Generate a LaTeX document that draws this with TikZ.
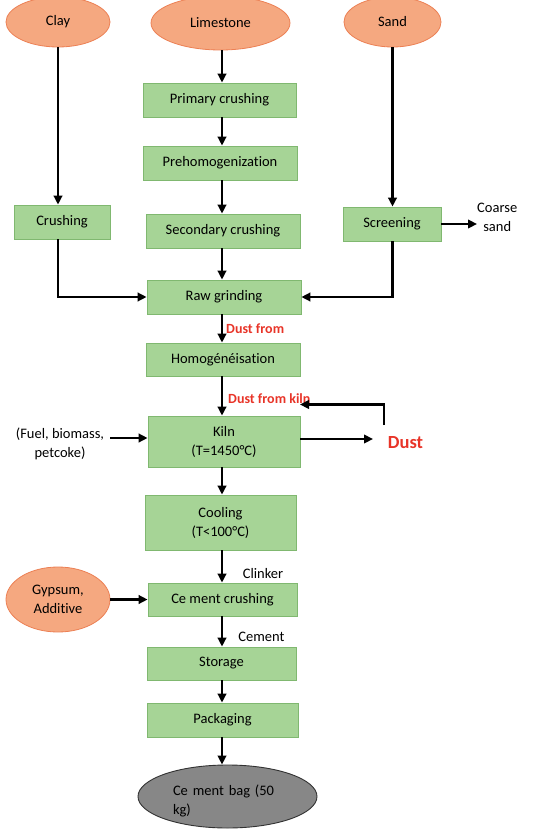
\documentclass[tikz,border=0pt]{standalone}
\usepackage{fontspec}
\setmainfont{Carlito}[Ligatures=NoCommon]
\usetikzlibrary{arrows.meta,shapes.geometric}
\definecolor{boxfill}{RGB}{166,212,150}
\definecolor{boxdraw}{RGB}{128,184,112}
\definecolor{ovfill}{RGB}{245,168,128}
\definecolor{ovdraw}{RGB}{236,128,84}
\definecolor{bagfill}{RGB}{135,135,135}
\definecolor{bagdraw}{RGB}{50,50,50}
\definecolor{dustred}{RGB}{232,52,40}
\tikzset{
  txt/.style={font=\fontsize{14.5}{19}\selectfont, align=center, inner sep=0pt},
  stepbox/.style={txt, rectangle, fill=boxfill, draw=boxdraw, line width=0.8pt},
  oval/.style={txt, ellipse, fill=ovfill, draw=ovdraw, line width=0.8pt},
  arr/.style={line width=2.3pt, -{Triangle[length=9pt,width=8.5pt]}},
  redlbl/.style={font=\fontsize{14}{17}\selectfont\bfseries, text=dustred, inner sep=0pt},
}
\begin{document}
\begin{tikzpicture}[x=1pt,y=-1pt]
\useasboundingbox (0,0) rectangle (535,832);
\coordinate (spine) at (222,0);
% sources
\node[oval, minimum width=104pt, minimum height=50pt] (clay) at (58,22) {Clay};
\node[oval, minimum width=139pt, minimum height=54pt] (lime) at (220.5,23) {Limestone};
\node[oval, minimum width=97pt, minimum height=50pt] (sand) at (392.5,22) {Sand};
% boxes
\node[stepbox, minimum width=153pt, minimum height=34pt] (prim) at (219.5,100) {Primary crushing};
\node[stepbox, minimum width=154pt, minimum height=34pt] (preh) at (220,163) {Prehomogenization};
\node[stepbox, minimum width=154pt, minimum height=34pt] (sec) at (223,231) {Secondary crushing};
\node[stepbox, minimum width=96pt, minimum height=34pt] (crush) at (62,222) {Crushing};
\node[stepbox, minimum width=98pt, minimum height=34pt] (screen) at (392,224) {Screening};
\node[txt, anchor=west] (coarse) at (477,217) {Coarse\\sand};
\node[stepbox, minimum width=154pt, minimum height=34pt] (raw) at (224,297) {Raw grinding};
\node[stepbox, minimum width=154pt, minimum height=33pt] (homog) at (223,359.5) {Homogénéisation};
\node[stepbox, minimum width=152pt, minimum height=51pt] (kiln) at (224,441.5) {Kiln\\(T=1450°C)};
\node[stepbox, minimum width=151pt, minimum height=55pt] (cool) at (220.5,522.5) {Cooling\\(T<100°C)};
\node[stepbox, minimum width=149pt, minimum height=33pt] (ccrush) at (222.5,599.5) {Ce ment crushing};
\node[stepbox, minimum width=149pt, minimum height=33pt] (stor) at (221.5,663.5) {Storage};
\node[stepbox, minimum width=151pt, minimum height=34pt] (pack) at (222.5,720) {Packaging};
\node[oval, minimum width=104pt, minimum height=65pt] (gyp) at (58,599.5) {Gypsum,\\Additive};
\node[ellipse, fill=bagfill, draw=bagdraw, line width=0.9pt, minimum width=179pt, minimum height=63pt, inner sep=0pt] (bag) at (227.5,796.5) {};
\node[txt, align=left, text width=109pt] (bagtext) at (227.5,800.5) {Ce ment bag (50\\kg)};
% labels
\node[redlbl, anchor=west] (dustfrom) at (226,328.5) {Dust from};
\node[redlbl, anchor=west] (dustkiln) at (228,399) {Dust from kiln};
\node[font=\fontsize{18.5}{22}\selectfont\bfseries, text=dustred, inner sep=0pt] (dust) at (405.5,443) {Dust};
\node[txt] (fuel) at (60,444) {(Fuel, biomass,\\petcoke)};
\node[txt] (clinker) at (263,573.5) {Clinker};
\node[txt] (cement) at (261.5,636.6) {Cement};
% helper coordinates
\coordinate (retstart) at (384,425);
\coordinate (retend) at (300,404.5);
\coordinate (dustin) at (373,439);
\coordinate (fuelout) at (110,438);
% connectors main spine
\draw[arr] (lime.south -| spine) -- (prim.north -| spine);
\draw[arr] (prim.south -| spine) -- (preh.north -| spine);
\draw[arr] (preh.south -| spine) -- (sec.north -| spine);
\draw[arr] (sec.south -| spine) -- (raw.north -| spine);
\draw[arr] (raw.south -| spine) -- (homog.north -| spine);
\draw[arr] (homog.south -| spine) -- (kiln.north -| spine);
\draw[arr] (kiln.south -| spine) -- (cool.north -| spine);
\draw[arr] (cool.south -| spine) -- (ccrush.north -| spine);
\draw[arr] (ccrush.south -| spine) -- (stor.north -| spine);
\draw[arr] (stor.south -| spine) -- (pack.north -| spine);
\draw[arr] (pack.south -| spine) -- (bag.north -| spine);
% side branches
\draw[arr] (clay.south) -- (clay.south |- crush.north);
\draw[arr] (sand.south) -- (sand.south |- screen.north);
\draw[arr] (crush.south -| clay.south) |- (raw.west);
\draw[arr] (screen.south -| sand.south) |- (raw.east);
\draw[arr] (screen.east) -- (screen.east -| coarse.west);
\draw[arr] (retstart) |- (retend);
\draw[arr] (kiln.east |- dustin) -- (dustin);
\draw[arr] (fuelout) -- (kiln.west |- fuelout);
\draw[arr] (gyp.east) -- (ccrush.west);
\end{tikzpicture}
\end{document}
